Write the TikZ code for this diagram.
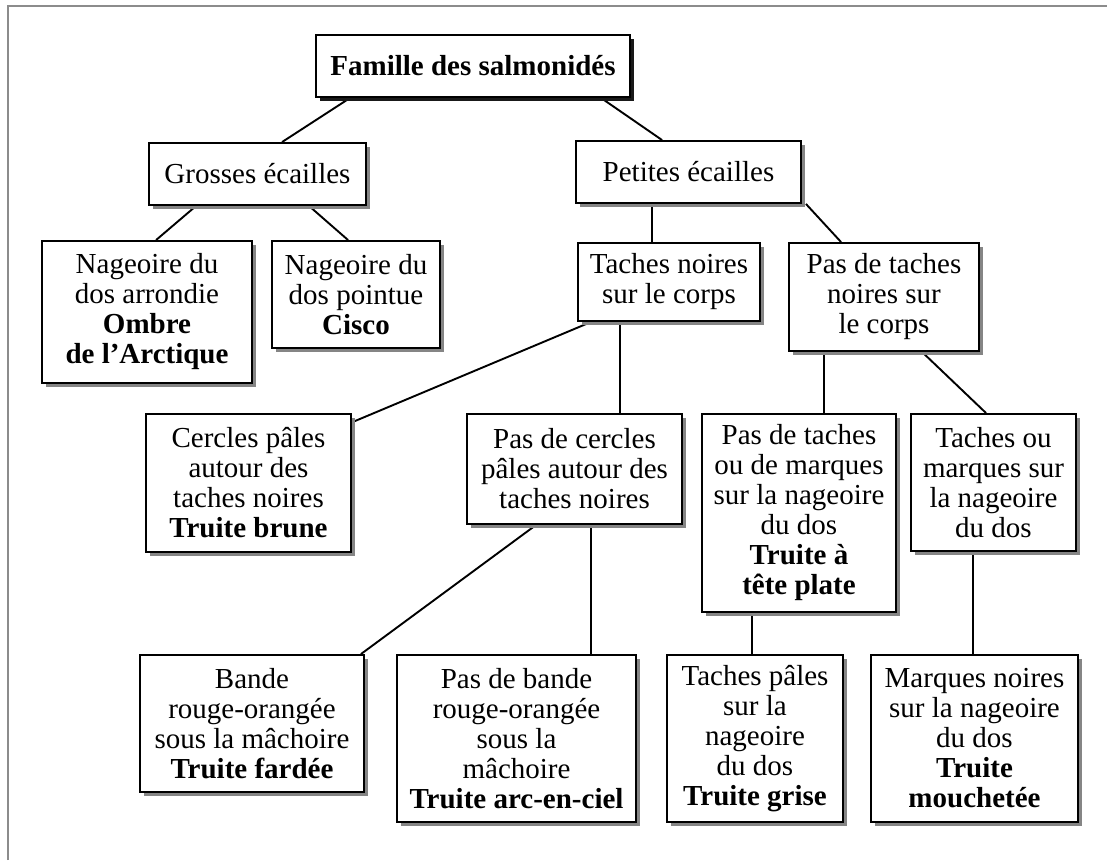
\documentclass[tikz,border=0pt]{standalone}
\usepackage{fontspec}
\setmainfont{Liberation Serif}
\usetikzlibrary{calc,shadows,backgrounds}

\begin{document}
\begin{tikzpicture} [x = 1pt, y = -1pt,
  boxbase/.style = {draw, line width=1.9pt, fill=white, align=center, inner sep=2pt,
    font=\fontsize{29}{30}\selectfont},
  box/.style = {boxbase, drop shadow={shadow xshift=4pt, shadow yshift=-4pt, fill=black!48, opacity=1}},
  rootbox/.style = {boxbase, drop shadow={shadow xshift=4pt, shadow yshift=-4pt, fill=black!90, opacity=1}},
  link/.style = {line width=1.9pt}]
\useasboundingbox (0,0) rectangle (1107,860);
\draw[black!45, line width=2pt] (8,860) -- (8,6) -- (1107,6);

\node[rootbox, minimum width=314pt, minimum height=62pt] (famille) at (473,66) {\textbf{Famille des salmonidés}};
\node[box, minimum width=217pt, minimum height=62pt] (grosses) at (257.5,174) {Grosses écailles};
\node[box, minimum width=225pt, minimum height=62pt] (petites) at (688.5,172) {Petites écailles};
\node[box, minimum width=210pt, minimum height=142pt] (arrondie) at (147,312) {Nageoire du\\dos arrondie\\\textbf{Ombre}\\\textbf{de l'Arctique}};
\node[box, minimum width=168pt, minimum height=107pt] (pointue) at (356,294.5) {Nageoire du\\dos pointue\\\textbf{Cisco}};
\node[box, minimum width=182pt, minimum height=78pt] (tnoires) at (669,282) {Taches noires\\sur le corps};
\node[box, minimum width=190pt, minimum height=108pt] (sanstaches) at (884,297) {Pas de taches\\noires sur\\le corps};
\node[box, minimum width=205pt, minimum height=138pt] (cercles) at (248.5,483) {Cercles pâles\\autour des\\taches noires\\\textbf{Truite brune}};
\node[box, minimum width=215pt, minimum height=110pt] (sanscercles) at (574.5,469) {Pas de cercles\\pâles autour des\\taches noires};
\node[box, minimum width=194pt, minimum height=198pt] (sansmarques) at (799,513) {Pas de taches\\ou de marques\\sur la nageoire\\du dos\\\textbf{Truite à}\\\textbf{tête plate}};
\node[box, minimum width=165pt, minimum height=137pt] (marques) at (993.5,482.5) {Taches ou\\marques sur\\la nageoire\\du dos};
\node[box, minimum width=224pt, minimum height=137pt] (fardee) at (252,723.5) {Bande\\rouge-orangée\\sous la mâchoire\\\textbf{Truite fardée}};
\node[box, minimum width=239pt, minimum height=167pt] (arcenciel) at (516.5,738.5) {Pas de bande\\rouge-orangée\\sous la\\mâchoire\\\textbf{Truite arc-en-ciel}};
\node[box, minimum width=176pt, minimum height=167pt] (grise) at (755,738.5) {Taches pâles\\sur la\\nageoire\\du dos\\\textbf{Truite grise}};
\node[box, minimum width=207pt, minimum height=167pt] (mouchetee) at (974.5,738.5) {Marques noires\\sur la nageoire\\du dos\\\textbf{Truite}\\\textbf{mouchetée}};

\begin{scope}[on background layer]
\draw[link] ($(famille.south west)+(35,0)$) -- ($(grosses.north west)+(134,0)$);
\draw[link] ($(famille.south west)+(286,0)$) -- ($(petites.north west)+(87,0)$);
\draw[link] ($(grosses.south west)+(48,0)$) -- ($(arrondie.north west)+(115,0)$);
\draw[link] ($(grosses.south west)+(161,0)$) -- ($(pointue.north west)+(77,0)$);
\draw[link] ($(petites.south west)+(77,0)$) -- ($(tnoires.north west)+(75,0)$);
\draw[link] ($(petites.south east)+(4,0)$) -- ($(sanstaches.north west)+(53,0)$);
\draw[link] ($(tnoires.south west)+(14,0)$) -- ($(cercles.north east)+(3,8)$);
\draw[link] ($(tnoires.south west)+(43,0)$) -- ($(sanscercles.north west)+(154,0)$);
\draw[link] ($(sanstaches.south west)+(36,0)$) -- ($(sansmarques.north west)+(123,0)$);
\draw[link] ($(sanstaches.south west)+(134,0)$) -- ($(marques.north west)+(76,0)$);
\draw[link] ($(sanscercles.south west)+(70,0)$) -- ($(fardee.north east)+(-4,0)$);
\draw[link] ($(sanscercles.south west)+(125,0)$) -- ($(arcenciel.north west)+(195,0)$);
\draw[link] ($(sansmarques.south west)+(51,0)$) -- ($(grise.north west)+(86,0)$);
\draw[link] ($(marques.south west)+(63,0)$) -- ($(mouchetee.north west)+(103,0)$);
\end{scope}
\end{tikzpicture}
\end{document}
